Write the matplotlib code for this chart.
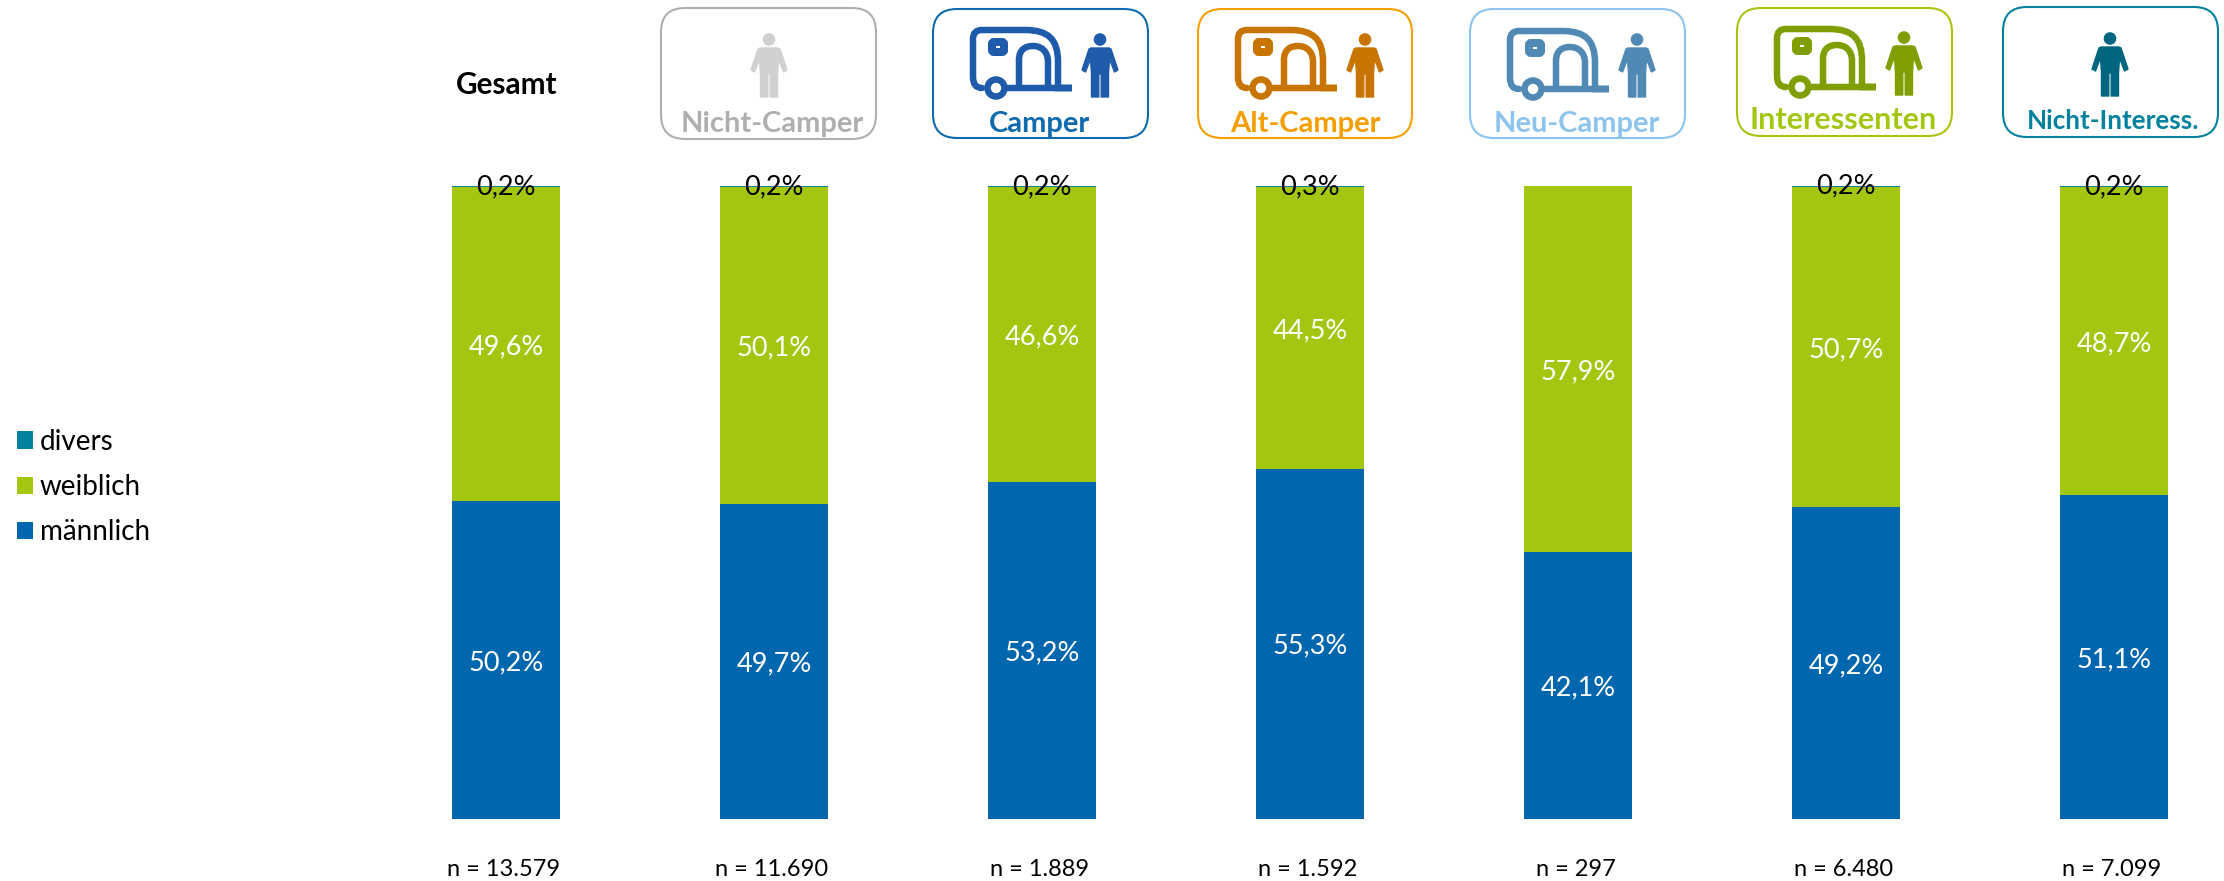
import matplotlib
matplotlib.use('Agg')
import matplotlib.pyplot as plt
import numpy as np
from matplotlib.patches import FancyBboxPatch, PathPatch, Circle, Polygon
from matplotlib.path import Path
from matplotlib.transforms import ScaledTranslation

groups = ['Gesamt', 'Nicht-Camper', 'Camper', 'Alt-Camper', 'Neu-Camper', 'Interessenten', 'Nicht-Interess.']
n_labels = ['n = 13.579', 'n = 11.690', 'n = 1.889', 'n = 1.592', 'n = 297', 'n = 6.480', 'n = 7.099']
maennlich = [50.2, 49.7, 53.2, 55.3, 42.1, 49.2, 51.1]
weiblich = [49.6, 50.1, 46.6, 44.5, 57.9, 50.7, 48.7]
divers = [0.2, 0.2, 0.2, 0.3, 0.0, 0.2, 0.2]

BLUE = '#0066AD'
GREEN = '#A3C711'
TEAL = '#00829E'

W, H = 2224, 881
plt.rcParams['font.family'] = ['Lato', 'DejaVu Sans']


def px_lw(px):
    return px * 72 / 100


def person(ax, cx, top, color):
    ax.add_patch(Circle((cx, top + 6.5), 6.3, fc=color, ec='none'))
    half = [(0, 15), (9, 15), (11, 16), (18, 37), (14.5, 39), (9.5, 26), (8.5, 41),
            (8.5, 64), (1.2, 64), (1.2, 41), (0, 41)]
    right = [(cx + a, top + b) for a, b in half]
    left = [(cx - a, top + b) for a, b in reversed(half)]
    ax.add_patch(Polygon(right + left, closed=True, fc=color, ec=color, lw=1, joinstyle='round'))


def caravan(ax, left, top, color):
    stroke = px_lw(6.5)

    def p(x, y):
        return (left + x, top + y)

    verts = [p(12, 61), p(3, 61), p(3, 50), p(3, 12), p(3, 3), p(12, 3), p(55, 3),
             p(78, 3), p(88, 12), p(88, 35), p(88, 61), p(102, 61), p(30, 61)]
    codes = [Path.MOVETO, Path.CURVE3, Path.CURVE3, Path.LINETO, Path.CURVE3, Path.CURVE3, Path.LINETO,
             Path.CURVE4, Path.CURVE4, Path.CURVE4, Path.LINETO, Path.LINETO, Path.LINETO]
    ax.add_patch(PathPatch(Path(verts, codes), fc='none', ec=color, lw=stroke, capstyle='round'))
    door = [p(49, 61), p(49, 33), p(49, 22), p(56, 19), p(63, 19), p(72, 19), p(78, 25), p(78, 35), p(78, 61)]
    door_codes = [Path.MOVETO, Path.LINETO, Path.CURVE4, Path.CURVE4, Path.CURVE4,
                  Path.CURVE4, Path.CURVE4, Path.CURVE4, Path.LINETO]
    ax.add_patch(PathPatch(Path(door, door_codes), fc='none', ec=color, lw=stroke))
    ax.add_patch(FancyBboxPatch(p(22, 15), 12, 10, boxstyle='round,pad=0,rounding_size=2',
                                fc='white', ec=color, lw=px_lw(8)))
    ax.add_patch(Circle(p(26, 61), 8.5, fc='white', ec=color, lw=stroke))


fig = plt.figure(figsize=(W / 100, H / 100), dpi=100)

# bars, the axes is placed so one category step is 268 px
bar_top, bar_bottom = 186, 818.6
ax_left = 506.2 - 0.5 * 268
ax = fig.add_axes([ax_left / W, 1 - bar_bottom / H, (W - ax_left) / W, (bar_bottom - bar_top) / H])
ax.patch.set_alpha(0)

x = np.arange(len(groups))
m = np.array(maennlich)
w = np.array(weiblich)
d = np.array(divers)
bw = 108 / 268
b1 = ax.bar(x, m, bw, color=BLUE, label='männlich')
b2 = ax.bar(x, w, bw, bottom=m, color=GREEN, label='weiblich')
b3 = ax.bar(x, d, bw, bottom=m + w, color=TEAL, label='divers')

# labels sit a little under the segment centre in the reference
down = ScaledTranslation(0, -2.5 / 100, fig.dpi_scale_trans)
for i in x:
    ax.text(i, m[i] / 2, f'{m[i]:.1f}%'.replace('.', ','), ha='center', va='center', color='white',
            fontsize=19.5, transform=ax.transData + down)
    ax.text(i, m[i] + w[i] / 2, f'{w[i]:.1f}%'.replace('.', ','), ha='center', va='center', color='white',
            fontsize=19.5, transform=ax.transData + down)
    if d[i] > 0:
        ax.text(i, m[i] + w[i] + d[i] / 2, f'{d[i]:.1f}%'.replace('.', ','), ha='center', va='center',
                color='black', fontsize=19.5)

ax.set_xlim(-0.5, (W - 506.2) / 268)
ax.set_ylim(0, 100)
ax.set_yticks([])
ax.set_xticks(x, n_labels, fontsize=17)
ax.tick_params(axis='x', length=0, pad=29)
left_shift = ScaledTranslation(-2.5 / 100, 0, fig.dpi_scale_trans)
for lab in ax.get_xticklabels():
    lab.set_transform(lab.get_transform() + left_shift)
for s in ax.spines.values():
    s.set_visible(False)

ax.legend([b3, b2, b1], ['divers', 'weiblich', 'männlich'], loc='center left',
          bbox_to_anchor=(17 / W, 1 - 487 / H), bbox_transform=fig.transFigure,
          frameon=False, fontsize=20, borderpad=0, borderaxespad=0, handlelength=0.576,
          handleheight=0.576, handletextpad=0.25, labelspacing=0.69)

# header boxes and icons, drawn in pixel coordinates
pix = fig.add_axes([0, 0, 1, 1])
pix.set_xlim(0, W)
pix.set_ylim(H, 0)
pix.axis('off')
pix.patch.set_alpha(0)

pix.text(507, 85, 'Gesamt', ha='center', va='center', fontsize=21.4, fontweight='bold', color='black')

boxes = [(661, 8, 215, 131), (933, 9, 215, 129), (1198, 9, 214, 129),
         (1470, 9, 215, 129), (1737, 8, 215, 128), (2003, 7, 215, 130)]
box_colors = ['#AFAFAF', '#0F6BAE', '#F59E00', '#8CC4EE', '#A3C711', '#00829E']
icon_colors = ['#D0D0D0', '#1E5BAA', '#C87400', '#5089B4', '#7F9F00', '#00667F']
person_pos = [(769, 33), (1100, 33), (1365, 33), (1637, 33), (1904, 31), (2110, 32)]
caravan_pos = [None, (970, 27), (1235, 27), (1507, 28), (1774, 26), None]
text_pos = [(772, 124), (1040, 124), (1305, 124), (1577, 124), (1843, 120), (2113, 121)]
text_size = [21, 21, 21, 21, 22, 18.7]

for k, name in enumerate(groups[1:]):
    bx, by, bwid, bh = boxes[k]
    pix.add_patch(FancyBboxPatch((bx, by), bwid, bh, boxstyle='round,pad=0,rounding_size=24',
                                 fc='white', ec=box_colors[k], lw=1.5))
    person(pix, person_pos[k][0], person_pos[k][1], icon_colors[k])
    if caravan_pos[k] is not None:
        caravan(pix, caravan_pos[k][0], caravan_pos[k][1], icon_colors[k])
    pix.text(text_pos[k][0], text_pos[k][1], name, ha='center', va='center', fontsize=text_size[k],
             fontweight='bold', color=box_colors[k])

fig.savefig('out.png', dpi=100)
